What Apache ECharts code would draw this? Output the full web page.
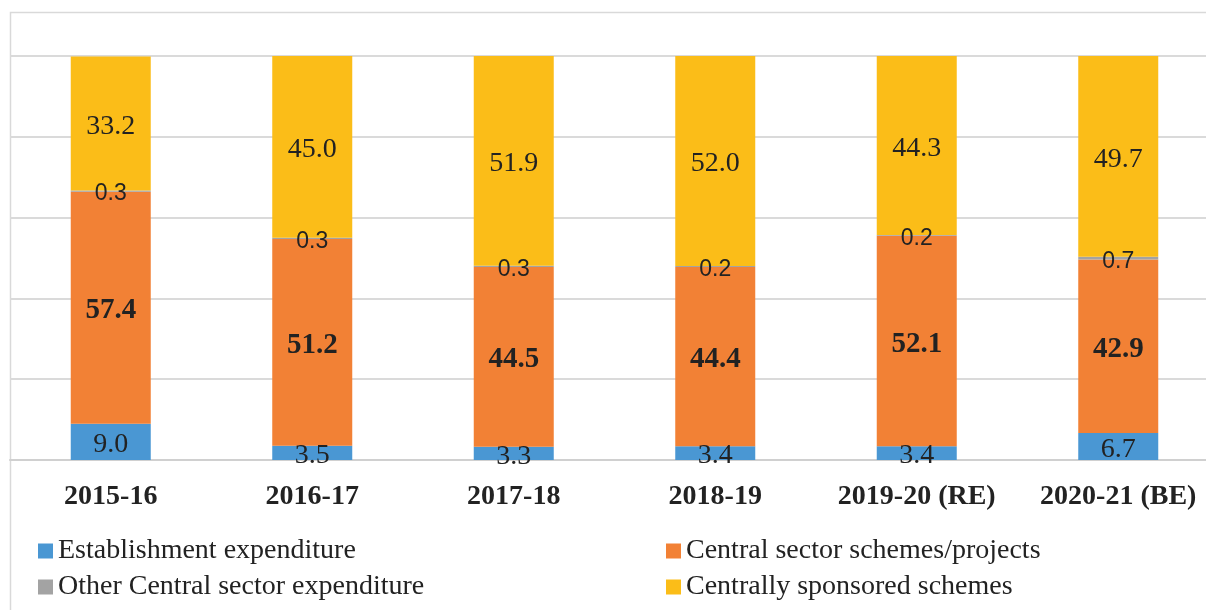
<!DOCTYPE html>
<html>
<head>
<meta charset="utf-8">
<script src="https://cdn.jsdelivr.net/npm/echarts@6/dist/echarts.min.js"></script>
<style>
  html, body { margin: 0; padding: 0; background: #fff; overflow: hidden; }
  /* the drawing runs a little past the right edge of the window */
  #chart { width: 1222px; height: 610px; }
</style>
</head>
<body>
<div id="chart"></div>
<script>
// Share of expenditure by component, per cent
const years = ['2015-16', '2016-17', '2017-18', '2018-19', '2019-20 (RE)', '2020-21 (BE)'];
const establishment = [9.0, 3.5, 3.3, 3.4, 3.4, 6.7];
const centralSector = [57.4, 51.2, 44.5, 44.4, 52.1, 42.9];
const otherCentral = [0.3, 0.3, 0.3, 0.2, 0.2, 0.7];
const sponsored = [33.2, 45.0, 51.9, 52.0, 44.3, 49.7];

const names = [
  'Establishment expenditure',
  'Central sector schemes/projects',
  'Other Central sector expenditure',
  'Centrally sponsored schemes'
];
const colors = ['#4a97d3', '#f28135', '#a3a3a3', '#fbbd18'];

const serif = '"Liberation Serif", "Times New Roman", serif';
const sans = '"Liberation Sans", Arial, sans-serif';

function seriesOf(i, values, label) {
  return {
    name: names[i],
    type: 'bar',
    stack: 'total',
    barWidth: 80,
    data: values,
    itemStyle: { color: colors[i] },
    label: Object.assign({
      show: true,
      position: 'inside',
      offset: [0, 3],
      color: '#222',
      formatter: p => p.value.toFixed(1)
    }, label)
  };
}

const chart = echarts.init(document.getElementById('chart'));
chart.setOption({
  animation: false,
  graphic: [{
    type: 'rect',
    shape: { x: 10.5, y: 12.5, width: 1230, height: 640 },
    style: { fill: 'none', stroke: '#d9d9d9', lineWidth: 1.5 },
    silent: true,
    z: -1
  }],
  grid: { left: 10, width: 1209, top: 56, height: 404 },
  legend: [
    {
      data: [names[0], names[2]],
      orient: 'vertical',
      left: 33, top: 531,
      itemWidth: 15, itemHeight: 15, itemGap: 6,
      icon: 'rect',
      textStyle: { fontFamily: serif, fontSize: 28, color: '#222', lineHeight: 30 }
    },
    {
      data: [names[1], names[3]],
      orient: 'vertical',
      left: 661, top: 531,
      itemWidth: 15, itemHeight: 15, itemGap: 6,
      icon: 'rect',
      textStyle: { fontFamily: serif, fontSize: 28, color: '#222', lineHeight: 30 }
    }
  ],
  xAxis: {
    type: 'category',
    data: years,
    axisLine: { lineStyle: { color: '#d0d0d0', width: 2 } },
    axisTick: { show: false },
    axisLabel: {
      interval: 0,
      margin: 23,
      fontFamily: serif,
      fontWeight: 'bold',
      fontSize: 28,
      color: '#222'
    }
  },
  yAxis: {
    type: 'value',
    min: 0, max: 100, interval: 20,
    axisLabel: { show: false },
    axisLine: { show: false },
    axisTick: { show: false },
    splitLine: { lineStyle: { color: '#dadada', width: 2 } }
  },
  series: [
    seriesOf(0, establishment, { fontFamily: serif, fontSize: 28 }),
    seriesOf(1, centralSector, { fontFamily: serif, fontSize: 29, fontWeight: 'bold' }),
    seriesOf(2, otherCentral, { fontFamily: sans, fontSize: 23 }),
    seriesOf(3, sponsored, { fontFamily: serif, fontSize: 28 })
  ]
});
</script>
</body>
</html>
